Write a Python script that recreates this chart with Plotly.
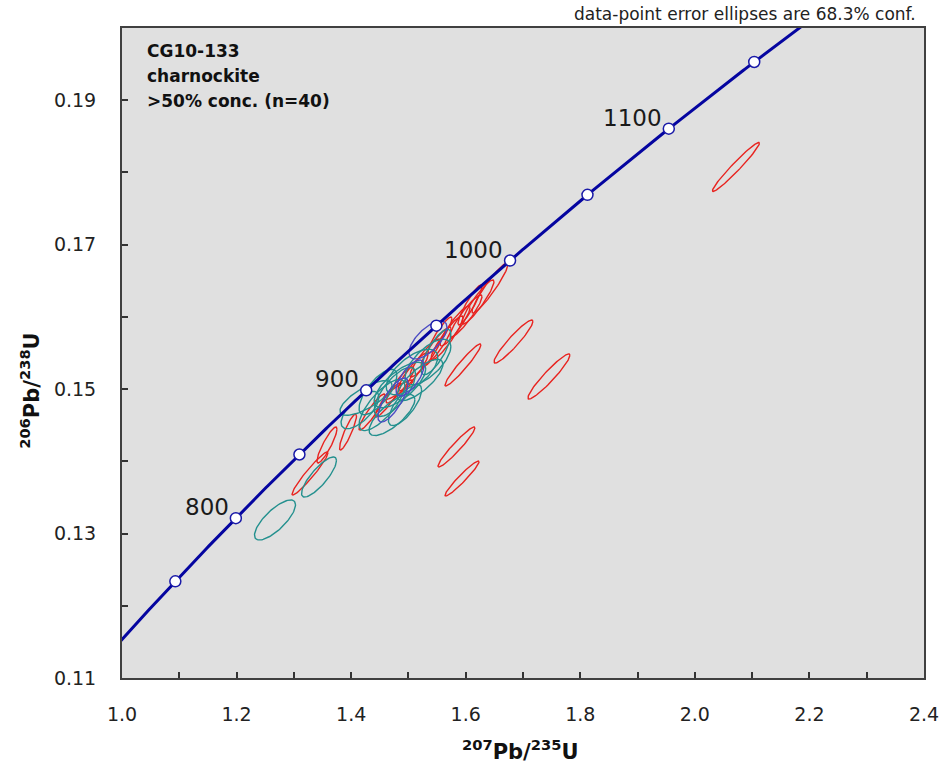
import numpy as np
import plotly.graph_objects as go

# ---------------- data ----------------
# decay constants (per year)
LAMBDA_238 = 1.55125e-10
LAMBDA_235 = 9.8485e-10

# concordia age markers (Ma) and the ones that are labelled
marker_ages = [750, 800, 850, 900, 950, 1000, 1050, 1100, 1150]
label_ages = [800, 900, 1000, 1100]
curve_age_min, curve_age_max = 690, 1190

# error ellipses: centre 207Pb/235U, centre 206Pb/238U,
# half-extent x, half-extent y (68.3% conf.), error correlation
red_x = [2.0717, 1.6834, 1.7453, 1.5952, 1.5839, 1.5935, 1.6423, 1.6214, 1.6005, 1.5813,
         1.5673, 1.5481, 1.5289, 1.5079, 1.4852, 1.4643, 1.4364, 1.3945, 1.3578, 1.3282,
         1.4818, 1.6074, 1.5551]
red_y = [0.18076, 0.15659, 0.15175, 0.15334, 0.14199, 0.13762, 0.16400, 0.16206, 0.16013, 0.15874,
         0.15708, 0.15583, 0.15431, 0.15237, 0.15057, 0.14849, 0.14683, 0.14406, 0.14226, 0.13832,
         0.14988, 0.16165, 0.15749]
red_ex = [0.0410, 0.0340, 0.0367, 0.0314, 0.0323, 0.0297, 0.0314, 0.0279, 0.0279, 0.0262,
          0.0279, 0.0262, 0.0262, 0.0262, 0.0244, 0.0227, 0.0227, 0.0148, 0.0175, 0.0314,
          0.0262, 0.0209, 0.0209]
red_ey = [0.00339, 0.00298, 0.00312, 0.00291, 0.00277, 0.00242, 0.00346, 0.00305, 0.00291, 0.00277,
          0.00305, 0.00277, 0.00263, 0.00263, 0.00249, 0.00235, 0.00249, 0.00249, 0.00249, 0.00298,
          0.00138, 0.00277, 0.00249]
red_rho = [0.972, 0.938, 0.945, 0.956, 0.955, 0.958, 0.940, 0.922, 0.920, 0.909,
           0.922, 0.909, 0.906, 0.906, 0.891, 0.922, 0.925, 0.890, 0.889, 0.957,
           0.907, 0.921, 0.916]

teal_x = [1.2671, 1.3439, 1.4259, 1.4538, 1.4713, 1.4852, 1.5062, 1.5341, 1.4765, 1.5202,
          1.4468, 1.5481, 1.4940, 1.4154]
teal_y = [0.13188, 0.13783, 0.14877, 0.14780, 0.14642, 0.15057, 0.15237, 0.15376, 0.14960, 0.15126,
          0.14960, 0.15514, 0.14780, 0.14711]
teal_ex = [0.0358, 0.0305, 0.0454, 0.0400, 0.0400, 0.0450, 0.0450, 0.0400, 0.0360, 0.0400,
           0.0330, 0.0260, 0.0290, 0.0330]
teal_ey = [0.00277, 0.00277, 0.00240, 0.00355, 0.00285, 0.00315, 0.00315, 0.00315, 0.00340, 0.00285,
           0.00315, 0.00315, 0.00285, 0.00260]
teal_rho = [0.760, 0.820, 0.740, 0.760, 0.750, 0.700, 0.650, 0.680, 0.720, 0.760,
            0.720, 0.780, 0.730, 0.680]

blue_x = [1.5341, 1.4730, 1.5027]
blue_y = [0.15680, 0.14849, 0.15154]
blue_ex = [0.0332, 0.0262, 0.0244]
blue_ey = [0.00263, 0.00305, 0.00249]
blue_rho = [0.668, 0.764, 0.690]

x_tick_labels = [1.0, 1.2, 1.4, 1.6, 1.8, 2.0, 2.2, 2.4]
x_minor_ticks = [1.1, 1.3, 1.5, 1.7, 1.9, 2.1, 2.3]
y_tick_labels = [0.11, 0.13, 0.15, 0.17, 0.19]
y_minor_ticks = [0.12, 0.14, 0.16, 0.18, 0.20]

sample_lines = ["CG10-133", "charnockite", ">50% conc. (n=40)"]
note_text = "data-point error ellipses are 68.3% conf."

# ---------------- helpers ----------------
def ratios(age_ma):
    t = np.asarray(age_ma, dtype=float) * 1e6
    return np.exp(LAMBDA_235 * t) - 1.0, np.exp(LAMBDA_238 * t) - 1.0


def ellipse_path(cx, cy, ex, ey, rho, n=90):
    th = np.linspace(0, 2 * np.pi, n)
    xs, ys = [], []
    for a, b, c, d, r in zip(cx, cy, ex, ey, rho):
        u, v = np.cos(th), np.sin(th)
        xs += list(a + c * u) + [None]
        ys += list(b + d * (r * u + np.sqrt(1 - r * r) * v)) + [None]
    return xs, ys


fig = go.Figure()

for (cx, cy, ex, ey, rr, col) in [
    (red_x, red_y, red_ex, red_ey, red_rho, "#e8231f"),
    (teal_x, teal_y, teal_ex, teal_ey, teal_rho, "#23908e"),
    (blue_x, blue_y, blue_ex, blue_ey, blue_rho, "#4b4bc4"),
]:
    xs, ys = ellipse_path(cx, cy, ex, ey, rr)
    fig.add_trace(go.Scatter(x=xs, y=ys, mode="lines",
                             line=dict(color=col, width=1.4),
                             hoverinfo="skip", showlegend=False))

# concordia curve
ages = np.linspace(curve_age_min, curve_age_max, 400)
cx_curve, cy_curve = ratios(ages)
fig.add_trace(go.Scatter(x=cx_curve, y=cy_curve, mode="lines",
                         line=dict(color="#0505a0", width=3),
                         hoverinfo="skip", showlegend=False))

mx, my = ratios(marker_ages)
fig.add_trace(go.Scatter(x=mx, y=my, mode="markers",
                         marker=dict(size=11, color="white",
                                     line=dict(color="#1a1aa8", width=1.5)),
                         hoverinfo="skip", showlegend=False))

# age labels
lx, ly = ratios(label_ages)
for a, xv, yv in zip(label_ages, lx, ly):
    fig.add_annotation(x=xv, y=yv, xref="x", yref="y", text=str(a),
                       showarrow=False, xanchor="right", yanchor="bottom",
                       xshift=-5, yshift=-4,
                       font=dict(family="DejaVu Sans", size=23, color="#1a1a1a"))

# sample info
for i, line in enumerate(sample_lines):
    fig.add_annotation(x=0.0287, y=0.965 - i * 0.0385, xref="paper", yref="paper",
                       text=line, showarrow=False, xanchor="left", yanchor="middle",
                       font=dict(family="DejaVu Sans", size=17, color="#111111",
                                 weight="bold"))

fig.add_annotation(x=0.9925, y=1.0215, xref="paper", yref="paper", text=note_text,
                   showarrow=False, xanchor="right", yanchor="middle",
                   font=dict(family="DejaVu Sans", size=17, color="#222222"))

# axis titles
fig.add_annotation(x=0.4975, y=-0.111, xref="paper", yref="paper",
                   text="<sup>207</sup>Pb/<sup>235</sup>U", showarrow=False,
                   xanchor="center", yanchor="middle",
                   font=dict(family="DejaVu Sans", size=21, color="#111111", weight="bold"))
fig.add_annotation(x=-0.115, y=0.443, xref="paper", yref="paper",
                   text="<sup>206</sup>Pb/<sup>238</sup>U", showarrow=False,
                   textangle=-90, xanchor="center", yanchor="middle",
                   font=dict(family="DejaVu Sans", size=21, color="#111111", weight="bold"))

axis_common = dict(showline=True, mirror=True, linecolor="#404040", linewidth=2,
                   showgrid=False, zeroline=False, ticks="inside", ticklen=6,
                   tickwidth=1.5, tickcolor="#333333", ticklabeloverflow="allow",
                   automargin=False,
                   tickfont=dict(family="DejaVu Sans", size=19, color="#222222"))

fig.update_xaxes(range=[0.99999, 2.40001], tickvals=x_tick_labels, tickformat=".1f",
                 ticklabelstandoff=18,
                 minor=dict(tickvals=x_minor_ticks, ticks="inside", ticklen=6,
                            tickwidth=1.5, tickcolor="#333333"),
                 **axis_common)
fig.update_yaxes(range=[0.11, 0.20], tickvals=y_tick_labels, tickformat=".2f",
                 ticklabelstandoff=20,
                 minor=dict(tickvals=y_minor_ticks, ticks="inside", ticklen=6,
                            tickwidth=1.5, tickcolor="#333333"),
                 **axis_common)

fig.update_layout(width=939, height=769,
                  margin=dict(l=122, r=15, t=28, b=91, autoexpand=False),
                  paper_bgcolor="white", plot_bgcolor="#e0e0e0",
                  showlegend=False)

fig.write_html("out.html")
